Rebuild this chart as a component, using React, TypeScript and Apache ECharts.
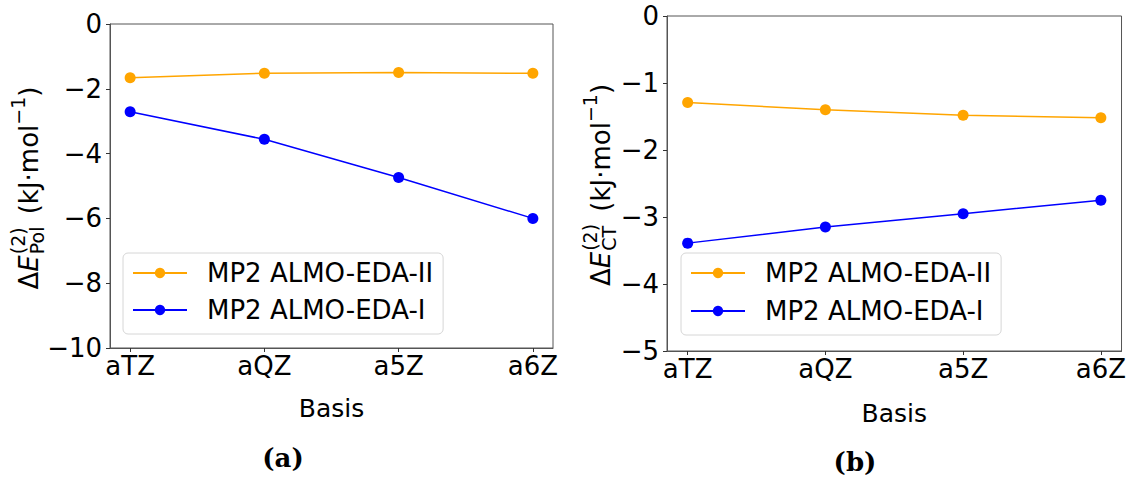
import { useEffect, useRef } from 'react';
import * as echarts from 'echarts';

// Basis sets on the x axis
const basisSets = ['aTZ', 'aQZ', 'a5Z', 'a6Z'];
const basisPositions = [0, 1, 2, 3];

// Series names
const nameII = 'MP2 ALMO-EDA-II';
const nameI = 'MP2 ALMO-EDA-I';

// (a) polarization energy, kJ/mol
const polEdaII = [-1.66, -1.52, -1.5, -1.52];
const polEdaI = [-2.71, -3.56, -4.74, -6.0];

// (b) charge-transfer energy, kJ/mol
const ctEdaII = [-1.29, -1.4, -1.48, -1.52];
const ctEdaI = [-3.39, -3.15, -2.95, -2.75];

// y-axis ranges
const polRange = { min: -10, max: 0, interval: 2 };
const ctRange = { min: -5, max: 0, interval: 1 };

const FONT = 'DejaVu Sans';
const ORANGE = '#FFA500';
const BLUE = '#0000FF';
const SPINE = '#555';
const TICK_FS = 26;

const minusFmt = (v: number) => (v < 0 ? '\u2212' + Math.abs(v) : String(v));

let measureCtx: CanvasRenderingContext2D | null = null;
function measure(text: string, size: number, italic = false) {
  if (!measureCtx) measureCtx = document.createElement('canvas').getContext('2d');
  measureCtx!.font = `${italic ? 'italic ' : ''}${size}px "${FONT}"`;
  return measureCtx!.measureText(text).width;
}

// Rotated axis title: ΔE^(2)_sub (kJ·mol^-1)
function yTitle(sub: string, cx: number, cy: number) {
  const main = 26;
  const small = 19;
  const parts: any[] = [];
  let x = 0;
  const push = (text: string, size: number, dy: number, italic = false) => {
    parts.push({
      type: 'text',
      x,
      y: dy,
      style: {
        text,
        fontSize: size,
        fontFamily: FONT,
        fontStyle: italic ? 'italic' : 'normal',
        fill: '#000',
        align: 'left',
        verticalAlign: 'middle',
      },
    });
  };
  push('\u0394', main, 0);
  x += measure('\u0394', main);
  push('E', main, 0, true);
  x += measure('E', main, true) + 1;
  const x0 = x;
  push('(2)', small, -11);
  push(sub, small, 8);
  x = x0 + Math.max(measure('(2)', small), measure(sub, small)) + 4;
  push(' (kJ\u00b7mol', main, 0);
  x += measure(' (kJ\u00b7mol', main);
  push('\u22121', small, -11);
  x += measure('\u22121', small);
  push(')', main, 0);
  x += measure(')', main);
  const total = x;
  return {
    type: 'group',
    x: cx,
    y: cy,
    rotation: Math.PI / 2,
    children: parts.map((p) => ({ ...p, x: p.x - total / 2 })),
  };
}

function xAxisFor(gridIndex: number, nameGap: number) {
  return {
    type: 'value',
    gridIndex,
    min: -0.15,
    max: 3.15,
    splitLine: { show: false },
    axisLine: { onZero: false, lineStyle: { color: SPINE, width: 1 } },
    axisTick: { customValues: basisPositions, length: 4, lineStyle: { color: '#333' } },
    axisLabel: {
      customValues: basisPositions,
      formatter: (v: number) => basisSets[Math.round(v)],
      fontSize: TICK_FS,
      fontFamily: FONT,
      color: '#000',
      margin: 5,
    },
    name: 'Basis',
    nameLocation: 'middle',
    nameGap,
    nameTextStyle: { fontSize: 25, fontFamily: FONT, color: '#000' },
  };
}

function yAxisFor(gridIndex: number, range: { min: number; max: number; interval: number }) {
  return {
    type: 'value',
    gridIndex,
    ...range,
    splitLine: { show: false },
    axisLine: { show: true, onZero: false, lineStyle: { color: SPINE, width: 1 } },
    axisTick: { show: true, length: 4, lineStyle: { color: '#333' } },
    axisLabel: { formatter: minusFmt, fontSize: TICK_FS, fontFamily: FONT, color: '#000', margin: 8 },
  };
}

function lineSeries(name: string, values: number[], color: string, axisIndex: number) {
  return {
    type: 'line',
    name,
    xAxisIndex: axisIndex,
    yAxisIndex: axisIndex,
    data: values.map((v, i) => [basisPositions[i], v]),
    symbol: 'circle',
    symbolSize: 11,
    showSymbol: true,
    lineStyle: { color, width: 1.5 },
    itemStyle: { color },
    z: 3,
  };
}

function legendAt(left: number, top: number, gap: number) {
  return {
    orient: 'vertical',
    left,
    top,
    data: [nameII, nameI],
    itemWidth: 54,
    itemHeight: 13,
    itemGap: gap,
    padding: [7, 10, 11, 9],
    borderColor: '#d6d6d6',
    borderWidth: 1,
    borderRadius: 5,
    backgroundColor: 'rgba(255,255,255,0.8)',
    selectedMode: false,
    textStyle: { fontSize: 26, fontFamily: FONT, color: '#000', padding: [0, 0, 0, 15] },
  };
}

export default function App() {
  const ref = useRef<HTMLDivElement>(null);

  useEffect(() => {
    if (!ref.current) return;
    const chart = echarts.init(ref.current, undefined, { renderer: 'svg' });
    chart.setOption({
      animation: false,
      backgroundColor: '#fff',
      textStyle: { fontFamily: FONT },
      grid: [
        { left: 110, top: 24, width: 443, height: 324, show: true, borderColor: SPINE, borderWidth: 1, backgroundColor: 'transparent' },
        { left: 667, top: 16, width: 456, height: 335, show: true, borderColor: SPINE, borderWidth: 1, backgroundColor: 'transparent' },
      ],
      xAxis: [xAxisFor(0, 48), xAxisFor(1, 50)],
      yAxis: [yAxisFor(0, polRange), yAxisFor(1, ctRange)],
      legend: [legendAt(123, 253, 11), legendAt(681, 253, 12)],
      series: [
        lineSeries(nameII, polEdaII, ORANGE, 0),
        lineSeries(nameI, polEdaI, BLUE, 0),
        lineSeries(nameII, ctEdaII, ORANGE, 1),
        lineSeries(nameI, ctEdaI, BLUE, 1),
      ],
      graphic: [
        yTitle('Pol', 29, 188),
        yTitle('CT', 601, 185),
        {
          type: 'text',
          x: 283,
          y: 458,
          style: { text: '(a)', fontSize: 26, fontWeight: 'bold', fontFamily: 'DejaVu Serif', fill: '#000', align: 'center', verticalAlign: 'middle' },
        },
        {
          type: 'text',
          x: 855,
          y: 462,
          style: { text: '(b)', fontSize: 26, fontWeight: 'bold', fontFamily: 'DejaVu Serif', fill: '#000', align: 'center', verticalAlign: 'middle' },
        },
      ],
    });
    return () => chart.dispose();
  }, []);

  return (
    <div
      ref={ref}
      style={{ position: 'fixed', left: 0, top: 0, width: 1129, height: 478, background: '#fff' }}
    />
  );
}
